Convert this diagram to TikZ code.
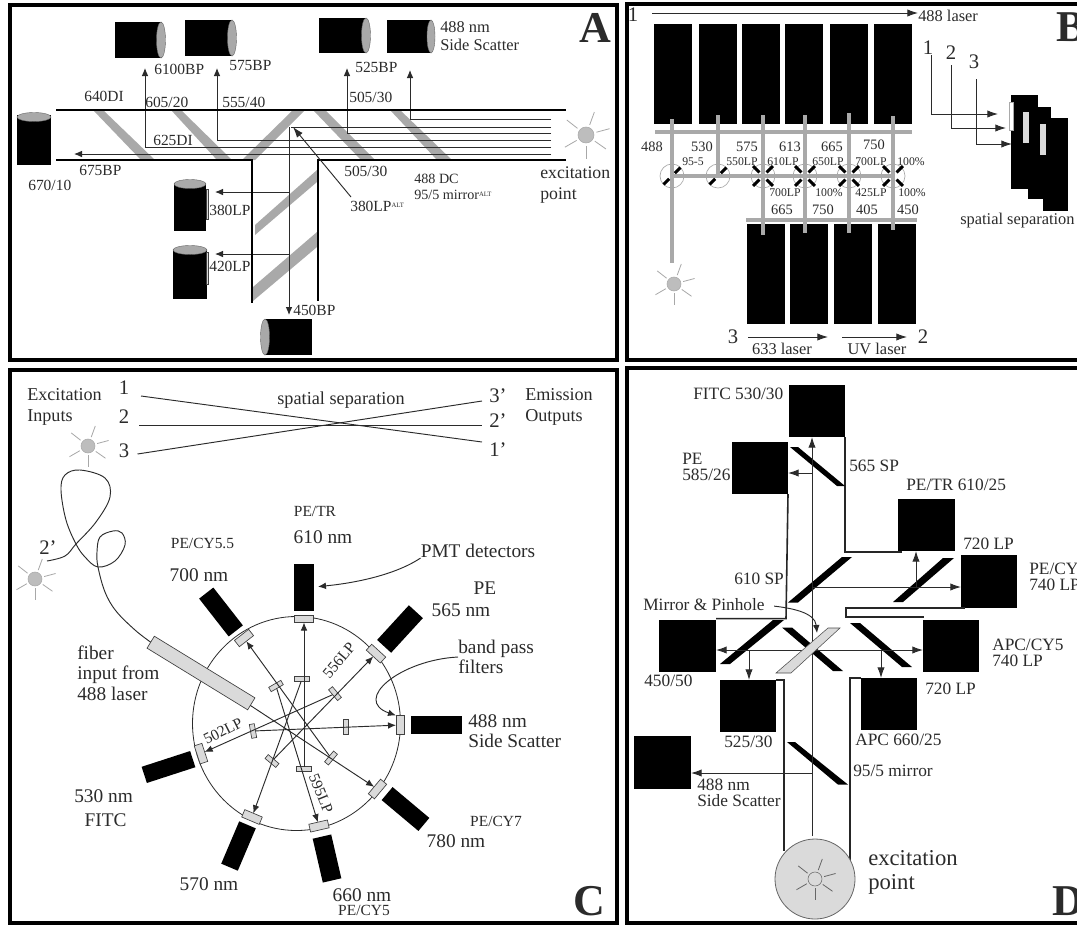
\documentclass[tikz,border=0pt]{standalone}
\usepackage{fontspec}
\setmainfont{Liberation Serif}
\usetikzlibrary{arrows.meta, shapes.geometric}
\definecolor{stripgrey}{HTML}{A9A9A9}
\definecolor{sungrey}{HTML}{BDBDBD}
\definecolor{raygrey}{HTML}{A8A8A8}
\definecolor{rodgrey}{HTML}{DADADA}
\definecolor{inkdark}{HTML}{2B2B2B}
\tikzset{
  frame/.style={draw=black, line width=2.8pt},
  pmt/.style 2 args={fill=black, inner sep=0pt, outer sep=0pt, minimum width=#1*.75pt, minimum height=#2*.75pt},
  lens/.style 2 args={ellipse, fill=stripgrey, draw=black!60, line width=.3pt, inner sep=0pt, minimum width=#1*.75pt, minimum height=#2*.75pt},
  filt/.style 2 args={draw=black!75, fill=rodgrey, line width=.5pt, inner sep=0pt, outer sep=0pt, minimum width=#1*.75pt, minimum height=#2*.75pt},
  strip/.style={fill=stripgrey},
  blackm/.style={fill=black},
  beam/.style={draw=stripgrey, line width=3.4pt},
  wall/.style={draw=black, line width=2.2pt},
  walld/.style={draw=black!85, line width=1.2pt},
  thinl/.style={draw=inkdark, line width=.7pt},
  flow/.style={-{Latex[length=6pt,width=5pt]}, line width=.7pt, draw=inkdark},
  flowb/.style={-{Latex[length=8pt,width=5.5pt]}, line width=.7pt, draw=inkdark},
  ray/.style={draw=raygrey, line width=.6pt},
  sunball/.style={circle, fill=sungrey, draw=raygrey, line width=.4pt, inner sep=0pt},
  mirc/.style={circle, draw=raygrey, line width=.5pt, inner sep=0pt, minimum size=18pt},
  mirk/.style={draw=black, line width=2.2pt},
  lbl/.style 2 args={font=\fontsize{#1}{#2}\selectfont, text=inkdark, inner sep=0pt, anchor=west, align=left},
  lbls/.style={lbl={8.8}{9}, anchor=center},
  lbln/.style={lbl={10.8}{12}, anchor=center},
  lbla/.style={lbl={11.6}{13.5}},
  lblb/.style={lbl={12.3}{14}},
  lblc/.style={lbl={14.5}{15.4}},
  lbld/.style={lbl={13}{12.2}},
  lblx/.style={lbl={17}{18}},
  lblnum/.style={lbl={15.5}{16}, anchor=center},
  pan/.style={font=\fontsize{33}{33}\selectfont\bfseries, text=inkdark, inner sep=0pt},
}
\newcommand{\sunmark}[4][]{%
  \node[sunball, minimum size=#4*1.5pt, #1] (#2) at (#3) {};
  \foreach \a in {-70,-15,35,90,150,218}
    \draw[ray, #1] (#2) ++(\a:#4*1.35) -- ++(\a:#4*1.7);
}
\begin{document}
\begin{tikzpicture}[x=.75pt, y=-.75pt]
  \clip (0,0) rectangle (1077,925);
  \fill[white] (0,0) rectangle (1077,925);
  % panels
  \draw[frame] (10,5) rectangle (617,360);
  \draw[frame] (627,4) rectangle (1090,360);
  \draw[frame] (10,370) rectangle (617,923);
  \draw[frame] (627,368) rectangle (1090,923);
  \node[pan] (pana) at (595,28) {A};
  \node[pan] (panb) at (1071,27) {B};
  \node[pan] (panc) at (589,901) {C};
  \node[pan] (pand) at (1068,901) {D};

  %%% panel A
  % grey filters
  \fill[strip] (93,110) -- (103,110) -- (155,160) -- (141,160) -- cycle;
  \fill[strip] (171,110) -- (181,110) -- (232,160) -- (217,160) -- cycle;
  \fill[strip] (293,110) -- (305,110) -- (255,160) -- (242,160) -- cycle;
  \fill[strip] (313,110) -- (325,110) -- (375,160) -- (361,160) -- cycle;
  \fill[strip] (390,110) -- (400,110) -- (452,160) -- (437,160) -- cycle;
  \fill[strip] (317,170) -- (317,182) -- (255,235) -- (255,225) -- cycle;
  \fill[strip] (317,232) -- (317,247) -- (253,301) -- (253,287) -- cycle;
  % beams
  \foreach \n/\y/\x in {1/119/410,2/127/291,3/133/347,4/140/217,5/147/145} {
    \coordinate (ar\n) at (551,\y);
    \coordinate (al\n) at (\x,\y);
    \draw[thinl] (ar\n) -- (al\n);
  }
  \coordinate (ar6) at (551,154);
  \coordinate (al6) at (74,154);
  \draw[flow] (ar6) -- (al6);
  % up arrows
  \coordinate (au1) at (145,68);
  \coordinate (au2) at (217,68);
  \coordinate (au3) at (347,68);
  \coordinate (au4) at (410,70);
  \draw[flow] (al5) -- (au1);
  \draw[flow] (al4) -- (au2);
  \draw[flow] (al3) -- (au3);
  \draw[flow] (al1) -- (au4);
  % down branch
  \coordinate (ad1) at (289,127);
  \coordinate (ad2) at (289,315);
  \coordinate (ad3) at (289,192);
  \coordinate (ad4) at (289,254);
  \coordinate (ae3) at (215,192);
  \coordinate (ae4) at (215,254);
  \draw[flow] (ad1) -- (ad2);
  \draw[flow] (ad3) -- (ae3);
  \draw[flow] (ad4) -- (ae4);
  % walls
  \draw[wall] (56,110) -- (566,110);
  \draw[wall] (56,160) -- (252,160) -- (252,303);
  \draw[wall] (566,160) -- (318,160) -- (318,301);
  % detectors
  \node[pmt={47}{36}] (ac1) at (138.5,40) {};
  \node[lens={9}{36}] (as1) at (161,40) {};
  \node[pmt={47}{36}] (ac2) at (208.5,38) {};
  \node[lens={9}{36}] (as2) at (232,38) {};
  \node[pmt={47}{35}] (ac3) at (342.5,35.5) {};
  \node[lens={9}{35}] (as3) at (366,35.5) {};
  \node[pmt={44}{33}] (ac4) at (409,36.5) {};
  \node[lens={8}{33}] (as4) at (431,36.5) {};
  \node[pmt={34}{50}] (ac5) at (34,140) {};
  \node[lens={34}{9}] (as5) at (34,117) {};
  \node[pmt={32}{48}] (ac6) at (190,207) {};
  \node[lens={32}{9}] (as6) at (190,184) {};
  \node[filt={2}{30}] (ah6) at (207,204) {};
  \node[pmt={34}{50}] (ac7) at (190,274) {};
  \node[lens={34}{9}] (as7) at (190,250) {};
  \node[filt={2}{32}] (ah7) at (207,268) {};
  \node[pmt={47}{36}] (ac8) at (288.5,337) {};
  \node[lens={9}{36}] (as8) at (265,337) {};
  \sunmark{asun}{586,135}{8}
  % labels
  \node[lbla] (at1) at (84,96) {640DI};
  \node[lbla] (at2) at (145,102) {605/20};
  \node[lbla] (at3) at (222,102) {555/40};
  \node[lbla] (at4) at (349,97) {505/30};
  \node[lbla] (at5) at (153,140) {625DI};
  \node[lbla] (at6) at (79,170) {675BP};
  \node[lbla] (at7) at (28,185) {670/10};
  \node[lbla] (at8) at (344,171) {505/30};
  \node[lbla] (at9) at (154,69) {6100BP};
  \node[lbla] (at10) at (229,66) {575BP};
  \node[lbla] (at11) at (355,67) {525BP};
  \node[lblb] (at12) at (440,36) {488 nm\\Side Scatter};
  \node[lbl={10.6}{12}] (at13) at (414,187) {488 DC\\95/5 mirror\raisebox{.55ex}{\fontsize{5}{5}\selectfont ALT}};
  \node[lbl={13.3}{15.6}] (at14) at (540,185) {excitation\\point};
  \node[lbla] (at15) at (209,210) {380LP};
  \node[lbla] (at16) at (209,266) {420LP};
  \node[lbla] (at17) at (293,310) {450BP};
  \node[lbla] (at18) at (350,206) {380LP\raisebox{.55ex}{\fontsize{5}{5}\selectfont ALT}};
  \coordinate (ap1) at (351,197);
  \coordinate (ap2) at (293,127);
  \draw[flowb] (ap1) -- (ap2);

  %%% panel B
  % detectors
  \foreach \n/\x in {1/673,2/718,3/761,4/804,5/849,6/892.5}
    \node[pmt={38}{100}] (bt\n) at (\x,74) {};
  \foreach \n/\x in {1/766,2/809,3/852.5,4/897}
    \node[pmt={38}{100}] (bb\n) at (\x,274) {};
  \coordinate (bbar1) at (655,132);
  \coordinate (bbar2) at (912,132);
  \coordinate (bbar3) at (746,220);
  \coordinate (bbar4) at (917,220);
  \draw[beam] (bbar1) -- (bbar2);
  \draw[beam] (bbar3) -- (bbar4);
  % beams
  \foreach \n/\x/\a/\b in {1/672/119/263,2/718/115/176,3/763/115/235,4/805/115/233,5/849/113/233,6/893/116/230} {
    \coordinate (bu\n) at (\x,\a);
    \coordinate (bd\n) at (\x,\b);
    \draw[beam] (bu\n) -- (bd\n);
    \node[mirc] (bm\n) at (\x,176) {};
  }
  \draw[beam] (bm1.center) -- (bm6.center);
  \foreach \n in {1,2}
    \foreach \a in {-45,135}
      \draw[mirk] (bm\n) ++(\a:4) -- ++(\a:8);
  \foreach \n in {3,4,5,6}
    \foreach \a in {-45,45,135,225}
      \draw[mirk] (bm\n) ++(\a:5) -- ++(\a:9);
  \sunmark{bsun}{674,284}{7}
  % wavelengths
  \node[lbln] (bw1) at (652,147) {488};
  \node[lbln] (bw2) at (702,147) {530};
  \node[lbln] (bw3) at (747,147) {575};
  \node[lbln] (bw4) at (790,147) {613};
  \node[lbln] (bw5) at (832,147) {665};
  \node[lbln] (bw6) at (874,145) {750};
  \node[lbls] (bf1) at (693,162) {95-5};
  \node[lbls] (bf2) at (742,162) {550LP};
  \node[lbls] (bf3) at (783,162) {610LP};
  \node[lbls] (bf4) at (828,162) {650LP};
  \node[lbls] (bf5) at (871,162) {700LP};
  \node[lbls] (bf6) at (911,162) {100\%};
  \node[lbls] (bg1) at (785,193) {700LP};
  \node[lbls] (bg2) at (829,193) {100\%};
  \node[lbls] (bg3) at (871,193) {425LP};
  \node[lbls] (bg4) at (912,193) {100\%};
  \node[lbln] (bx1) at (782,210) {665};
  \node[lbln] (bx2) at (823,210) {750};
  \node[lbln] (bx3) at (867,210) {405};
  \node[lbln] (bx4) at (908,210) {450};
  % laser arrows
  \node[lblnum] (bn1) at (633,15) {1};
  \node[lblb] (bl488) at (918,16) {488 laser};
  \coordinate (bla) at (652,13);
  \draw[flowb] (bla) -- (bl488.west |- bla);
  \node[lblnum] (bn3) at (733,337) {3};
  \node[lblnum] (bn2) at (923,337) {2};
  \coordinate (blb) at (748,337);
  \coordinate (blc) at (828,337);
  \coordinate (bld) at (842,337);
  \coordinate (ble) at (907,337);
  \draw[flowb] (blb) -- (blc);
  \draw[flowb] (bld) -- (ble);
  \node[lblb, anchor=center] (bl633) at (782,349) {633 laser};
  \node[lblb, anchor=center] (blUV) at (877,349) {UV laser};
  % spatial separation
  \node[pmt={27}{94}] (bs1) at (1024.5,142) {};
  \node[filt={4}{28}, draw=stripgrey, fill=white] (bh1) at (1011,116) {};
  \node[pmt={23}{92}] (bs2) at (1039.5,153) {};
  \node[filt={6}{31}, draw=none] (bh2) at (1026,127.5) {};
  \node[pmt={25}{93}] (bs3) at (1055.5,164.5) {};
  \node[filt={6}{31}, draw=none] (bh3) at (1043,139.5) {};
  \node[lblnum] (bp1) at (928,48) {1};
  \node[lblnum] (bp2) at (951,53) {2};
  \node[lblnum] (bp3) at (974,62) {3};
  \coordinate (bo1) at (931,55);
  \coordinate (bo2) at (951,65);
  \coordinate (bo3) at (976,79);
  \coordinate (bq1) at (931,114);
  \coordinate (bq2) at (951,128);
  \coordinate (bq3) at (976,144);
  \coordinate (br1) at (998,114);
  \coordinate (br2) at (1006,128);
  \coordinate (br3) at (1012,144);
  \draw[thinl] (bo1) -- (bq1);
  \draw[thinl] (bo2) -- (bq2);
  \draw[thinl] (bo3) -- (bq3);
  \draw[flowb] (bq1) -- (br1);
  \draw[flowb] (bq2) -- (br2);
  \draw[flowb] (bq3) -- (br3);
  \node[lblb] (bsp) at (960,221) {spatial separation};

  %%% panel C
  \node[lbl={13.6}{15.7}] (ct1) at (27,406.5) {Excitation\\Inputs};
  \node[lbl={13.6}{15.7}] (ct2) at (525,406.5) {Emission\\Outputs};
  \node[lbl={13.7}{14}, anchor=center] (ct3) at (341,400) {spatial separation};
  \node[lblnum] (cn1) at (124,388) {1};
  \node[lblnum] (cn2) at (124,417) {2};
  \node[lblnum] (cn3) at (124,451) {3};
  \node[lblnum] (cm3) at (498,396) {3'};
  \node[lblnum] (cm2) at (498,421) {2'};
  \node[lblnum] (cm1) at (498,450) {1'};
  \coordinate (cl1) at (141,396);
  \coordinate (cl2) at (139,425);
  \coordinate (cl3) at (137.5,454);
  \coordinate (cr1) at (482,442);
  \coordinate (cr2) at (482,425);
  \coordinate (cr3) at (482,401);
  \draw[thinl] (cl1) -- (cr1);
  \draw[thinl] (cl2) -- (cr2);
  \draw[thinl] (cl3) -- (cr3);
  \sunmark{csun1}{88,446}{7}
  \sunmark{csun2}{35,579}{7}
  \node[lblnum] (cfib) at (48,548) {2'};
  % ring
  \node[ellipse, draw=inkdark, line width=.6pt, inner sep=0pt, minimum width=208*.75pt, minimum height=214*.75pt] (cring) at (296.5,723.5) {};
  % rod and fiber
  \node[filt={118}{14}, rotate=-31.5] (crod) at (201,673) {};
  \coordinate (cfs) at (47,561);
  \draw[thinl] plot[smooth, tension=.6] coordinates {(cfs) (65,556) (76,544) (96,522) (110,497) (105,478) (80,470) (65,475) (61,490) (66,520) (76,544) (85,557) (98,567) (115,561) (125,545) (122,533) (113,531) (100,537) (97,552) (98,567) (105,592) (116,611) (135,630) (crod.west)};
  % detectors
  \node[pmt={20}{47}] (cd1) at (304,587) {};
  \node[pmt={48}{18}, rotate=-52] (cd2) at (221,612) {};
  \node[pmt={47}{19}, rotate=47.5] (cd3) at (400,629) {};
  \node[pmt={51}{18}] (cd4) at (436,725) {};
  \node[pmt={48}{17}, rotate=-40] (cd5) at (405.5,809) {};
  \node[pmt={45}{19}, rotate=-77] (cd6) at (327,858.5) {};
  \node[pmt={46}{18}, rotate=67] (cd7) at (238.5,846) {};
  \node[pmt={51}{17}, rotate=18] (cd8) at (168.5,767) {};
  % filters on the ring
  \node[filt={19}{7}] (cb1) at (304,619) {};
  \node[filt={18}{8}, rotate=38] (cb2) at (244,638) {};
  \node[filt={19}{8}, rotate=-42.5] (cb3) at (376,653.6) {};
  \node[filt={8}{19}] (cb4) at (400,725) {};
  \node[filt={19}{8}, rotate=50] (cb5) at (377.5,789) {};
  \node[filt={19}{8}, rotate=13] (cb6) at (319,826) {};
  \node[filt={19}{8}, rotate=-23] (cb7) at (252,817) {};
  \node[filt={19}{8}, rotate=108] (cb8) at (201,753.6) {};
  % inner dichroics
  \node[filt={15}{5}] (ci1) at (302,679) {};
  \node[filt={14}{5}, rotate=30] (ci2) at (276,686) {};
  \node[filt={14}{5}, rotate=-50] (ci3) at (335,693.6) {};
  \node[filt={5}{15}] (ci4) at (345.5,726.4) {};
  \node[filt={14}{5}, rotate=50] (ci5) at (331,758) {};
  \node[filt={15}{5}] (ci6) at (304,769) {};
  \node[filt={14}{5}, rotate=-40] (ci7) at (272,761) {};
  \node[filt={5}{14}, rotate=10] (ci8) at (253,731) {};
  % light paths
  \draw[flow] (ci6) -- (cb1);
  \draw[flow] (ci5) -- (cb2);
  \draw[flow] (ci7) -- (cb3);
  \draw[flow] (ci8) -- (cb4);
  \draw[flow] (crod) -- (cb5);
  \draw[flow] (ci2) -- (cb6);
  \draw[flow] (ci1) -- (cb7);
  \draw[flow] (ci3) -- (cb8);
  % labels
  \node[lbla, anchor=center] (cq1) at (315,511) {PE/TR};
  \node[lblc, anchor=center] (cq2) at (323,537) {610 nm};
  \node[lbla, anchor=center] (cq3) at (202.5,543) {PE/CY5.5};
  \node[lblc, anchor=center] (cq4) at (199,575) {700 nm};
  \node[lblc] (cq5) at (420.5,551) {PMT detectors};
  \node[lblc, anchor=center] (cq6) at (485,588) {PE};
  \node[lblc, anchor=center] (cq7) at (461,610) {565 nm};
  \node[lblc] (cq8) at (458,657) {band pass\\filters};
  \node[lblc] (cq9) at (468,731) {488 nm\\Side Scatter};
  \node[lblc] (cq10) at (77,673) {fiber\\input from\\488 laser};
  \node[lblc, anchor=center] (cq11) at (103.6,796) {530 nm};
  \node[lblc, anchor=center] (cq12) at (105.6,820) {FITC};
  \node[lblc, anchor=center] (cq13) at (209,884) {570 nm};
  \node[lblc, anchor=center] (cq14) at (362,895) {660 nm};
  \node[lbla, anchor=center] (cq15) at (364,910) {PE/CY5};
  \node[lbla, anchor=center] (cq16) at (496,821) {PE/CY7};
  \node[lblc, anchor=center] (cq17) at (456,841) {780 nm};
  \node[lbla, anchor=center, rotate=27] (cq18) at (223,731) {502LP};
  \node[lbla, anchor=center, rotate=50] (cq19) at (339,660) {556LP};
  \node[lbla, anchor=center, rotate=-68] (cq20) at (321,793.6) {595LP};
  % callouts
  \draw[flow, shorten >=3pt] (cq5.south west) .. controls (395,575) and (355,583) .. (cd1.east);
  \draw[flow] (cq8.west) .. controls (400,660) and (352,700) .. (cb4.north west);

  %%% panel D
  % detectors
  \node[pmt={56}{52}] (dfitc) at (817,411) {};
  \node[pmt={56}{52}] (dpe) at (760,468) {};
  \node[pmt={57}{52}] (dtr) at (926.5,525) {};
  \node[pmt={56}{53}] (dcy) at (989,581.5) {};
  \node[pmt={56}{52}] (dapc) at (951,646) {};
  \node[pmt={57}{52}] (d450) at (687.5,646) {};
  \node[pmt={56}{52}] (d525) at (748,706) {};
  \node[pmt={56}{52}] (d660) at (889,704) {};
  \node[pmt={57}{53}] (dss) at (662.5,762.5) {};
  % body
  \draw[walld] (dfitc.south east) -- (845,552) -- (902,552);
  \draw[walld] (dpe.south east) -- (786,618.6) -- (716,618.6);
  \draw[walld] (965,608) -- (846,608) -- (846,617) -- (924,617);
  \draw[walld] (776,680) -- (784,680) -- (784,851);
  \draw[walld] (861,678) -- (850,678) -- (850,860);
  % mirrors
  \fill[blackm] (790,447) -- (798,447) -- (845,486) -- (837,486) -- cycle;
  \fill[blackm] (788,602.5) -- (798,602.5) -- (852,557) -- (842,557) -- cycle;
  \fill[blackm] (893,602) -- (903,602) -- (954,558) -- (943,558) -- cycle;
  \fill[blackm] (720,664) -- (730,664) -- (784,620) -- (773,620) -- cycle;
  \fill[blackm] (782,627.5) -- (792,627.5) -- (843,671) -- (833,671) -- cycle;
  \fill[blackm] (850,623) -- (860,623) -- (912,667) -- (902,667) -- cycle;
  \fill[blackm] (787,742) -- (795,742) -- (848,784.6) -- (838,784.6) -- cycle;
  % light paths
  \node[circle, draw=black!60, fill=rodgrey, line width=.6pt, inner sep=0pt, minimum size=60pt] (dball) at (815,879) {};
  \sunmark[fill=none, draw=black!60]{dsun}{815,879}{7}
  \coordinate (dv) at (812,836);
  \coordinate (dc1) at (812,473);
  \coordinate (dc2) at (812,587);
  \coordinate (dc3) at (916,587);
  \coordinate (dc4) at (812,650);
  \coordinate (dc5) at (749,650);
  \coordinate (dc6) at (881,650);
  \coordinate (dc7) at (812,773);
  \draw[flowb] (dv) -- (dfitc.south -| dv);
  \draw[flowb] (dc1) -- (dpe.east |- dc1);
  \draw[flowb] (dc2) -- (dcy.west |- dc2);
  \draw[flowb] (dc3) -- (dtr.south -| dc3);
  \draw[flowb, {Latex[length=8pt,width=5.5pt]}-{Latex[length=8pt,width=5.5pt]}] (d450.east |- dc4) -- (dapc.west |- dc4);
  \draw[flowb] (dc5) -- (d525.north -| dc5);
  \draw[flowb] (dc6) -- (d660.north -| dc6);
  \draw[flowb] (dc7) -- (dss.east |- dc7);
  % grey mirror
  \draw[fill=rodgrey, draw=black!70, line width=.4pt] (776,673) -- (791,673) -- (840,628) -- (828,628) -- cycle;
  % labels
  \node[lbld] (dt1) at (693,393.6) {FITC 530/30};
  \node[lbld] (dt2) at (682,467) {PE\\585/26};
  \node[lbld] (dt3) at (849,466) {565 SP};
  \node[lbld] (dt4) at (906,485) {PE/TR 610/25};
  \node[lbld] (dt5) at (963,543.6) {720 LP};
  \node[lbld] (dt6) at (1029,577) {PE/CY5\\740 LP};
  \node[lbld] (dt7) at (734,578.6) {610 SP};
  \node[lbld] (dt8) at (643,605) {Mirror \& Pinhole};
  \node[lbld] (dt9) at (992,652.5) {APC/CY5\\740 LP};
  \node[lbld] (dt10) at (644,681) {450/50};
  \node[lbld] (dt11) at (925,689) {720 LP};
  \node[lbld] (dt12) at (724,742) {525/30};
  \node[lbld] (dt13) at (855,740) {APC 660/25};
  \node[lbld] (dt14) at (853,771) {95/5 mirror};
  \node[lbld] (dt15) at (697,793) {488 nm\\Side Scatter};
  \node[lblx] (dt16) at (868,872) {excitation\\point};
  \coordinate (dmp) at (817,633);
  \draw[flow, shorten <=7pt] (dt8.east) .. controls (790,608) and (815,612) .. (dmp);
\end{tikzpicture}
\end{document}
